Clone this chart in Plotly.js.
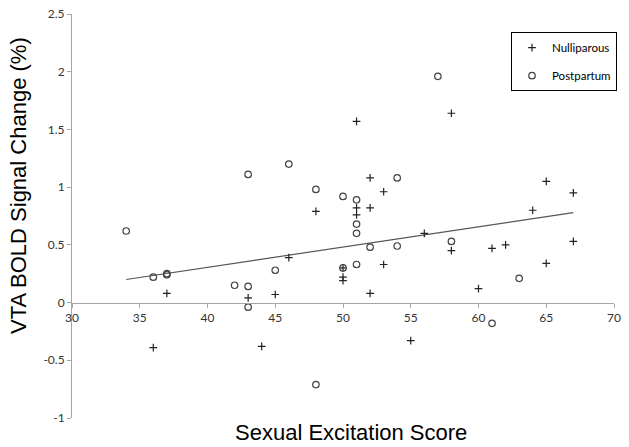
<!DOCTYPE html>
<html>
<head>
<meta charset="utf-8">
<script src="https://cdn.plot.ly/plotly-3.0.1.min.js"></script>
<style>
  html, body { margin: 0; padding: 0; background: #fff; }
  #chart { width: 629px; height: 447px; }
</style>
</head>
<body>
<div id="chart"></div>
<script>
// Nulliparous group (+)
const nulliX = [37, 36, 43, 44, 45, 46, 48, 50, 50, 50, 51, 51, 51, 52, 52, 52, 53, 53, 55, 56, 58, 58, 60, 61, 62, 64, 65, 65, 67, 67];
const nulliY = [0.08, -0.39, 0.04, -0.38, 0.07, 0.39, 0.79, 0.30, 0.22, 0.19, 1.57, 0.82, 0.76, 1.08, 0.82, 0.08, 0.96, 0.33, -0.33, 0.60, 1.64, 0.45, 0.12, 0.47, 0.50, 0.80, 1.05, 0.34, 0.95, 0.53];

// Postpartum group (o)
const postX = [34, 36, 37, 37, 42, 43, 43, 43, 45, 46, 48, 48, 50, 50, 51, 51, 51, 51, 52, 54, 54, 57, 58, 61, 63];
const postY = [0.62, 0.22, 0.25, 0.24, 0.15, 1.11, 0.14, -0.04, 0.28, 1.20, 0.98, -0.71, 0.92, 0.30, 0.89, 0.68, 0.60, 0.33, 0.48, 1.08, 0.49, 1.96, 0.53, -0.18, 0.21];

// trend line end points
const fitX = [34, 67];
const fitY = [0.20, 0.78];

const xTicks = [30, 35, 40, 45, 50, 55, 60, 65, 70];
const yTicks = [-1, -0.5, 0, 0.5, 1, 1.5, 2, 2.5];
const yTickText = ['-1', '-0.5', '0', '0.5', '1', '1.5', '2', '2.5'];

const tickFont = { family: 'Lato, "Open Sans", sans-serif', size: 12, color: '#333' };

const traces = [
    {
        x: fitX, y: fitY,
        type: 'scatter', mode: 'lines',
        line: { color: '#555', width: 1.2 },
        showlegend: false, hoverinfo: 'skip'
    },
    {
        x: nulliX, y: nulliY,
        type: 'scatter', mode: 'markers',
        name: 'Nulliparous', legendgroup: 'n',
        marker: { symbol: 'cross-thin-open', size: 5.5, color: '#222', line: { color: '#222', width: 1.2 } }
    },
    {
        x: postX, y: postY,
        type: 'scatter', mode: 'markers',
        name: 'Postpartum', legendgroup: 'p',
        marker: { symbol: 'circle-open', size: 6.5, color: '#444', line: { color: '#444', width: 1.2 } }
    }
];

const layout = {
    width: 629,
    height: 447,
    margin: { l: 72, r: 15, t: 14, b: 29 },
    paper_bgcolor: '#fff',
    plot_bgcolor: '#fff',
    showlegend: true,
    legend: {
        x: 0.81, y: 0.955, xanchor: 'left', yanchor: 'top',
        bordercolor: '#000', borderwidth: 1,
        font: { family: 'Lato, "Open Sans", sans-serif', size: 11.5, color: '#000' },
        traceorder: 'grouped', tracegroupgap: 9
    },
    xaxis: {
        range: [30, 70],
        anchor: 'free', position: 1 / 3.5,
        tickvals: xTicks,
        showline: true, linecolor: '#a6a6a6', linewidth: 1,
        ticks: 'outside', ticklen: 4, tickcolor: '#a6a6a6',
        showgrid: false, zeroline: false,
        tickfont: tickFont
    },
    yaxis: {
        range: [-1, 2.5],
        tickvals: yTicks, ticktext: yTickText,
        showline: true, linecolor: '#a6a6a6', linewidth: 1,
        ticks: 'outside', ticklen: 4, tickcolor: '#a6a6a6',
        showgrid: false, zeroline: false,
        tickfont: tickFont
    },
    annotations: [
        {
            text: 'Sexual Excitation Score',
            xref: 'paper', yref: 'paper',
            x: (351 - 72) / 542, y: -0.037,
            xanchor: 'center', yanchor: 'middle',
            showarrow: false,
            font: { family: '"Liberation Sans", Arial, sans-serif', size: 22, color: '#000' }
        },
        {
            text: 'VTA BOLD Signal Change (%)',
            xref: 'paper', yref: 'paper',
            x: (18 - 72) / 542, y: (418 - 186) / 404,
            xanchor: 'center', yanchor: 'middle',
            textangle: -90,
            showarrow: false,
            font: { family: '"Liberation Sans", Arial, sans-serif', size: 22, color: '#000' }
        }
    ]
};

Plotly.newPlot('chart', traces, layout, { displayModeBar: false, staticPlot: true });
</script>
</body>
</html>
